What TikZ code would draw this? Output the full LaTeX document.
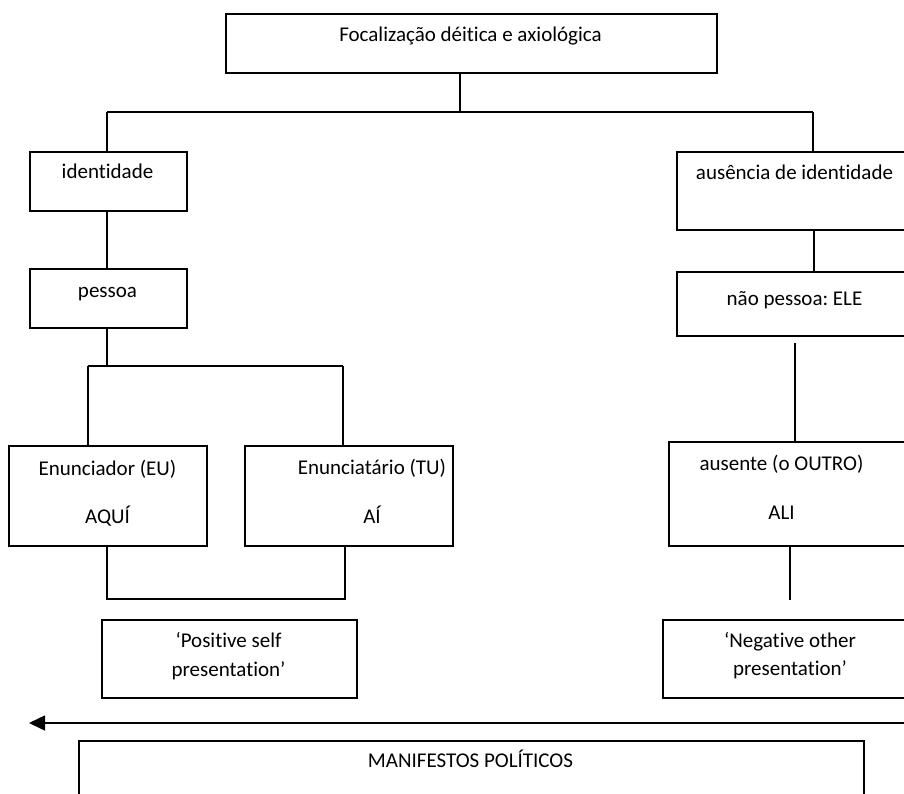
\documentclass[tikz,border=0pt]{standalone}
\usepackage{fontspec}
\setmainfont{Carlito}[Ligatures={NoCommon,NoContextual},Contextuals=NoAlternate]
\usetikzlibrary{arrows.meta}
\frenchspacing
\begin{document}
\begin{tikzpicture}[x=1pt,y=-1pt,
  box/.style={draw=black,line width=1.6pt,rectangle,inner sep=0pt,anchor=north west},
  lbl/.style={anchor=base,inner sep=0pt,font=\fontsize{21}{25}\selectfont},
  conn/.style={draw=black,line width=1.5pt}]
\useasboundingbox (0,0) rectangle (904,794);
\clip (0,0) rectangle (904,794);
% boxes
\node[box,minimum width=491pt,minimum height=59pt] (top) at (225,13) {};
\node[box,minimum width=157pt,minimum height=59pt] (ident) at (29,151) {};
\node[box,minimum width=157pt,minimum height=59pt] (pess) at (29,268) {};
\node[box,minimum width=198pt,minimum height=100pt] (enun) at (8,445) {};
\node[box,minimum width=208pt,minimum height=100pt] (enut) at (244,445) {};
\node[box,minimum width=255pt,minimum height=78pt] (pos) at (101,619) {};
\node[box,minimum width=239pt,minimum height=78pt] (aus) at (676,151) {};
\node[box,minimum width=239pt,minimum height=64pt] (naop) at (676,271) {};
\node[box,minimum width=247pt,minimum height=104pt] (ause) at (668,441) {};
\node[box,minimum width=253pt,minimum height=78pt] (neg) at (662,619) {};
\node[box,minimum width=785pt,minimum height=80pt] (man) at (78,740) {};
% texts
\node[lbl] (tTop) at (470.5,42) {Focalização déitica e axiológica};
\node[lbl] (tIdent) at (107.5,179) {identidade};
\node[lbl] (tPess) at (107.5,297) {pessoa};
\node[lbl] (tEnun1) at (107.5,475) {Enunciador (EU)};
\node[lbl] (tEnun2) at (107.5,523) {AQUÍ};
\node[lbl] (tEnut1) at (372,474) {Enunciatário (TU)};
\node[lbl] (tEnut2) at (372,523) {AÍ};
\node[lbl] (tPos1) at (228.5,647) {‘Positive self};
\node[lbl] (tPos2) at (228.5,676) {presentation’};
\node[lbl] (tAus) at (794.5,180) {ausência de identidade};
\node[lbl] (tNaop) at (794.5,305) {não pessoa: ELE};
\node[lbl] (tAuse1) at (781.5,470) {ausente (o OUTRO)};
\node[lbl] (tAuse2) at (781.5,519) {ALI};
\node[lbl] (tNeg1) at (790,647) {‘Negative other};
\node[lbl] (tNeg2) at (790,675) {presentation’};
\node[lbl] (tMan) at (470.5,767) {MANIFESTOS POLÍTICOS};
% junction coordinates
\coordinate (jT) at (460,112);
\coordinate (jL) at (107,112);
\coordinate (jR) at (813,112);
\coordinate (jP) at (107,366);
\coordinate (jPL) at (88,366);
\coordinate (jPR) at (343,366);
\coordinate (jB) at (107,599);
\coordinate (jBR) at (345,599);
\coordinate (nEnd) at (795,343);
\coordinate (aEnd) at (790,600);
\coordinate (arS) at (906,723);
\coordinate (arE) at (29,723);
% connectors
\draw[conn] (top.south -| jT) -- (jT);
\draw[conn] (jL) -- (jR);
\draw[conn] (jL) -- (ident.north -| jL);
\draw[conn] (jR) -- (aus.north -| jR);
\draw[conn] (ident.south -| jL) -- (pess.north -| jL);
\draw[conn] (pess.south -| jP) -- (jP);
\draw[conn] (jPL) -- (jPR);
\draw[conn] (jPL) -- (enun.north -| jPL);
\draw[conn] (jPR) -- (enut.north -| jPR);
\draw[conn] (enun.south -| jB) -- (jB) -- (jBR) -- (enut.south -| jBR);
\draw[conn] (aus.south -| 814,0) -- (naop.north -| 814,0);
\draw[conn] (nEnd) -- (ause.north -| nEnd);
\draw[conn] (ause.south -| aEnd) -- (aEnd);
\draw[conn,-{Triangle[length=16pt,width=15pt]}] (arS) -- (arE);
\end{tikzpicture}
\end{document}
